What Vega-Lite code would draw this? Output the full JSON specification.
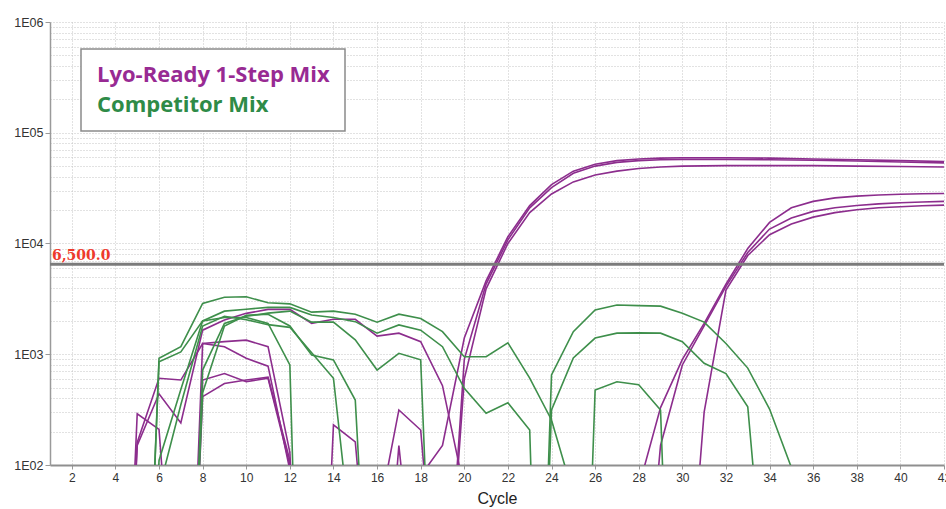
{
  "$schema": "https://vega.github.io/schema/vega-lite/v6.json",
  "width": 894,
  "height": 443,
  "autosize": {"type": "none"},
  "padding": {"left": 50, "top": 22, "right": 2, "bottom": 44},
  "background": "white",
  "config": {"view": {"stroke": null}, "font": "Liberation Sans"},
  "datasets": {
    "series": [
      {"s": "A1", "mix": "Lyo-Ready 1-Step Mix"}, {"s": "A2", "mix": "Lyo-Ready 1-Step Mix"}, {"s": "A3", "mix": "Lyo-Ready 1-Step Mix"},
      {"s": "B1", "mix": "Lyo-Ready 1-Step Mix"}, {"s": "B2", "mix": "Lyo-Ready 1-Step Mix"}, {"s": "B3", "mix": "Lyo-Ready 1-Step Mix"},
      {"s": "P1", "mix": "Lyo-Ready 1-Step Mix"}, {"s": "P2", "mix": "Lyo-Ready 1-Step Mix"}, {"s": "P3", "mix": "Lyo-Ready 1-Step Mix"},
      {"s": "P4", "mix": "Lyo-Ready 1-Step Mix"}, {"s": "P5", "mix": "Lyo-Ready 1-Step Mix"}, {"s": "P6", "mix": "Lyo-Ready 1-Step Mix"},
      {"s": "P7", "mix": "Lyo-Ready 1-Step Mix"}, {"s": "P8", "mix": "Lyo-Ready 1-Step Mix"}, {"s": "P9", "mix": "Lyo-Ready 1-Step Mix"},
      {"s": "G1", "mix": "Competitor Mix"}, {"s": "G2", "mix": "Competitor Mix"}, {"s": "G3", "mix": "Competitor Mix"},
      {"s": "G4", "mix": "Competitor Mix"}, {"s": "G5", "mix": "Competitor Mix"}, {"s": "G6", "mix": "Competitor Mix"},
      {"s": "R1", "mix": "Competitor Mix"}, {"s": "R2", "mix": "Competitor Mix"}, {"s": "R3", "mix": "Competitor Mix"}
    ],
    "curves": [
      {"s":"A1","c":17,"v":0.01},{"s":"A1","c":18,"v":80},{"s":"A1","c":19,"v":150},{"s":"A1","c":20,"v":1400},{"s":"A1","c":21,"v":4600},{"s":"A1","c":22,"v":11500},{"s":"A1","c":23,"v":22000},{"s":"A1","c":24,"v":34000},{"s":"A1","c":25,"v":45000},{"s":"A1","c":26,"v":52000},{"s":"A1","c":27,"v":56000},{"s":"A1","c":28,"v":58000},{"s":"A1","c":29,"v":59000},{"s":"A1","c":30,"v":59500},{"s":"A1","c":32,"v":59500},{"s":"A1","c":34,"v":59000},{"s":"A1","c":36,"v":58000},{"s":"A1","c":38,"v":57000},{"s":"A1","c":40,"v":56000},{"s":"A1","c":42,"v":55000},
      {"s":"A2","c":18,"v":0.01},{"s":"A2","c":19,"v":1},{"s":"A2","c":20,"v":900},{"s":"A2","c":21,"v":4300},{"s":"A2","c":22,"v":10800},{"s":"A2","c":23,"v":21000},{"s":"A2","c":24,"v":32000},{"s":"A2","c":25,"v":43000},{"s":"A2","c":26,"v":50000},{"s":"A2","c":27,"v":54000},{"s":"A2","c":28,"v":56000},{"s":"A2","c":29,"v":57000},{"s":"A2","c":30,"v":57500},{"s":"A2","c":32,"v":57500},{"s":"A2","c":34,"v":57000},{"s":"A2","c":36,"v":56500},{"s":"A2","c":38,"v":55500},{"s":"A2","c":40,"v":54500},{"s":"A2","c":42,"v":53500},
      {"s":"A3","c":19,"v":1},{"s":"A3","c":20,"v":600},{"s":"A3","c":21,"v":3900},{"s":"A3","c":22,"v":10000},{"s":"A3","c":23,"v":19000},{"s":"A3","c":24,"v":28000},{"s":"A3","c":25,"v":36000},{"s":"A3","c":26,"v":41500},{"s":"A3","c":27,"v":45000},{"s":"A3","c":28,"v":47500},{"s":"A3","c":29,"v":49000},{"s":"A3","c":30,"v":50000},{"s":"A3","c":32,"v":50500},{"s":"A3","c":34,"v":50500},{"s":"A3","c":36,"v":50500},{"s":"A3","c":38,"v":50000},{"s":"A3","c":40,"v":49500},{"s":"A3","c":42,"v":49000},
      {"s":"B1","c":27,"v":0.01},{"s":"B1","c":28,"v":63},{"s":"B1","c":29,"v":330},{"s":"B1","c":30,"v":900},{"s":"B1","c":31,"v":1900},{"s":"B1","c":32,"v":4300},{"s":"B1","c":33,"v":9000},{"s":"B1","c":34,"v":15500},{"s":"B1","c":35,"v":21000},{"s":"B1","c":36,"v":24000},{"s":"B1","c":37,"v":25800},{"s":"B1","c":38,"v":26800},{"s":"B1","c":39,"v":27400},{"s":"B1","c":40,"v":27800},{"s":"B1","c":41,"v":28100},{"s":"B1","c":42,"v":28300},
      {"s":"B2","c":28,"v":1},{"s":"B2","c":29,"v":150},{"s":"B2","c":30,"v":800},{"s":"B2","c":31,"v":1800},{"s":"B2","c":32,"v":4100},{"s":"B2","c":33,"v":8300},{"s":"B2","c":34,"v":13500},{"s":"B2","c":35,"v":17000},{"s":"B2","c":36,"v":19500},{"s":"B2","c":37,"v":21000},{"s":"B2","c":38,"v":22000},{"s":"B2","c":39,"v":22800},{"s":"B2","c":40,"v":23300},{"s":"B2","c":41,"v":23700},{"s":"B2","c":42,"v":24000},
      {"s":"B3","c":30,"v":1},{"s":"B3","c":31,"v":300},{"s":"B3","c":32,"v":3800},{"s":"B3","c":33,"v":7800},{"s":"B3","c":34,"v":12000},{"s":"B3","c":35,"v":15000},{"s":"B3","c":36,"v":17300},{"s":"B3","c":37,"v":19000},{"s":"B3","c":38,"v":20200},{"s":"B3","c":39,"v":21000},{"s":"B3","c":40,"v":21500},{"s":"B3","c":41,"v":21900},{"s":"B3","c":42,"v":22200},
      {"s":"P1","c":4,"v":0.01},{"s":"P1","c":5,"v":290},{"s":"P1","c":6,"v":210},{"s":"P1","c":7,"v":0.5},
      {"s":"P2","c":4,"v":0.01},{"s":"P2","c":5,"v":150},{"s":"P2","c":6,"v":440},{"s":"P2","c":7,"v":240},{"s":"P2","c":8,"v":1650},{"s":"P2","c":9,"v":2040},{"s":"P2","c":10,"v":2340},{"s":"P2","c":11,"v":2540},{"s":"P2","c":12,"v":2540},{"s":"P2","c":13,"v":1900},{"s":"P2","c":14,"v":2070},{"s":"P2","c":15,"v":2070},{"s":"P2","c":16,"v":1460},{"s":"P2","c":17,"v":1550},{"s":"P2","c":18,"v":1300},{"s":"P2","c":19,"v":520},{"s":"P2","c":20,"v":60},
      {"s":"P3","c":4,"v":0.01},{"s":"P3","c":5,"v":160},{"s":"P3","c":6,"v":607},{"s":"P3","c":7,"v":585},{"s":"P3","c":8,"v":1250},{"s":"P3","c":9,"v":1300},{"s":"P3","c":10,"v":1340},{"s":"P3","c":11,"v":1170},{"s":"P3","c":12,"v":130},{"s":"P3","c":13,"v":0.01},
      {"s":"P4","c":7,"v":0.01},{"s":"P4","c":8,"v":585},{"s":"P4","c":9,"v":670},{"s":"P4","c":10,"v":565},{"s":"P4","c":11,"v":607},{"s":"P4","c":12,"v":100},{"s":"P4","c":13,"v":0.01},
      {"s":"P5","c":7,"v":0.01},{"s":"P5","c":8,"v":1250},{"s":"P5","c":9,"v":1170},{"s":"P5","c":10,"v":920},{"s":"P5","c":11,"v":780},{"s":"P5","c":12,"v":90},{"s":"P5","c":13,"v":0.01},
      {"s":"P6","c":7,"v":0.01},{"s":"P6","c":8,"v":414},{"s":"P6","c":9,"v":545},{"s":"P6","c":10,"v":585},{"s":"P6","c":11,"v":620},{"s":"P6","c":12,"v":110},{"s":"P6","c":13,"v":0.01},
      {"s":"P7","c":13,"v":0.01},{"s":"P7","c":14,"v":230},{"s":"P7","c":15,"v":162},{"s":"P7","c":16,"v":1},
      {"s":"P8","c":15,"v":0.01},{"s":"P8","c":16,"v":30},{"s":"P8","c":17,"v":314},{"s":"P8","c":18,"v":207},{"s":"P8","c":19,"v":1},
      {"s":"P9","c":16,"v":0.5},{"s":"P9","c":17,"v":150},{"s":"P9","c":18,"v":2},
      {"s":"G1","c":5,"v":0.01},{"s":"G1","c":6,"v":919},{"s":"G1","c":7,"v":1170},{"s":"G1","c":8,"v":2880},{"s":"G1","c":9,"v":3270},{"s":"G1","c":10,"v":3300},{"s":"G1","c":11,"v":2920},{"s":"G1","c":12,"v":2850},{"s":"G1","c":13,"v":2400},{"s":"G1","c":14,"v":2450},{"s":"G1","c":15,"v":2300},{"s":"G1","c":16,"v":1950},{"s":"G1","c":17,"v":2300},{"s":"G1","c":18,"v":2100},{"s":"G1","c":19,"v":1600},{"s":"G1","c":20,"v":950},{"s":"G1","c":21,"v":950},{"s":"G1","c":22,"v":1270},{"s":"G1","c":23,"v":610},{"s":"G1","c":24,"v":255},{"s":"G1","c":25,"v":54},
      {"s":"G2","c":5,"v":0.01},{"s":"G2","c":6,"v":857},{"s":"G2","c":7,"v":1050},{"s":"G2","c":8,"v":2000},{"s":"G2","c":9,"v":2450},{"s":"G2","c":10,"v":2550},{"s":"G2","c":11,"v":2650},{"s":"G2","c":12,"v":2650},{"s":"G2","c":13,"v":2260},{"s":"G2","c":14,"v":2150},{"s":"G2","c":15,"v":1970},{"s":"G2","c":16,"v":1550},{"s":"G2","c":17,"v":1840},{"s":"G2","c":18,"v":1650},{"s":"G2","c":19,"v":1170},{"s":"G2","c":20,"v":493},{"s":"G2","c":21,"v":293},{"s":"G2","c":22,"v":365},{"s":"G2","c":23,"v":207},{"s":"G2","c":24,"v":0.0001},
      {"s":"G3","c":5,"v":0.01},{"s":"G3","c":6,"v":110},{"s":"G3","c":7,"v":480},{"s":"G3","c":8,"v":2000},{"s":"G3","c":9,"v":2150},{"s":"G3","c":10,"v":2150},{"s":"G3","c":11,"v":1900},{"s":"G3","c":12,"v":800},{"s":"G3","c":13,"v":0.0001},
      {"s":"G4","c":5,"v":0.01},{"s":"G4","c":6,"v":60},{"s":"G4","c":7,"v":350},{"s":"G4","c":8,"v":1800},{"s":"G4","c":9,"v":2200},{"s":"G4","c":10,"v":2050},{"s":"G4","c":11,"v":1850},{"s":"G4","c":12,"v":1750},{"s":"G4","c":13,"v":1030},{"s":"G4","c":14,"v":607},{"s":"G4","c":15,"v":10},
      {"s":"G5","c":7,"v":0.01},{"s":"G5","c":8,"v":450},{"s":"G5","c":9,"v":1800},{"s":"G5","c":10,"v":2250},{"s":"G5","c":11,"v":2300},{"s":"G5","c":12,"v":1800},{"s":"G5","c":13,"v":985},{"s":"G5","c":14,"v":890},{"s":"G5","c":15,"v":386},{"s":"G5","c":16,"v":0.1},
      {"s":"G6","c":7,"v":0.01},{"s":"G6","c":8,"v":720},{"s":"G6","c":9,"v":1900},{"s":"G6","c":10,"v":2200},{"s":"G6","c":11,"v":2350},{"s":"G6","c":12,"v":2450},{"s":"G6","c":13,"v":1950},{"s":"G6","c":14,"v":1950},{"s":"G6","c":15,"v":1350},{"s":"G6","c":16,"v":720},{"s":"G6","c":17,"v":1020},{"s":"G6","c":18,"v":890},{"s":"G6","c":19,"v":0.01},
      {"s":"R1","c":23,"v":0.001},{"s":"R1","c":24,"v":650},{"s":"R1","c":25,"v":1600},{"s":"R1","c":26,"v":2510},{"s":"R1","c":27,"v":2780},{"s":"R1","c":28,"v":2750},{"s":"R1","c":29,"v":2720},{"s":"R1","c":30,"v":2350},{"s":"R1","c":31,"v":1950},{"s":"R1","c":32,"v":1250},{"s":"R1","c":33,"v":750},{"s":"R1","c":34,"v":320},{"s":"R1","c":35,"v":95},{"s":"R1","c":36,"v":0.01},
      {"s":"R2","c":23,"v":0.001},{"s":"R2","c":24,"v":314},{"s":"R2","c":25,"v":925},{"s":"R2","c":26,"v":1400},{"s":"R2","c":27,"v":1550},{"s":"R2","c":28,"v":1560},{"s":"R2","c":29,"v":1550},{"s":"R2","c":30,"v":1300},{"s":"R2","c":31,"v":830},{"s":"R2","c":32,"v":670},{"s":"R2","c":33,"v":336},{"s":"R2","c":34,"v":2},
      {"s":"R3","c":25,"v":0.001},{"s":"R3","c":26,"v":476},{"s":"R3","c":27,"v":565},{"s":"R3","c":28,"v":530},{"s":"R3","c":29,"v":314},{"s":"R3","c":30,"v":0.001}
    ],
    "threshold": [{"c": 1, "v": 6500, "label": "6,500.0"}]
  },
  "layer": [
    {
      "data": {"name": "curves"},
      "transform": [{"lookup": "s", "from": {"data": {"name": "series"}, "key": "s", "fields": ["mix"]}}],
      "mark": {"type": "line", "clip": true, "strokeWidth": 1.6},
      "encoding": {
        "x": {
          "field": "c", "type": "quantitative",
          "scale": {"domain": [1, 42], "nice": false, "zero": false},
          "axis": {
            "values": [2,4,6,8,10,12,14,16,18,20,22,24,26,28,30,32,34,36,38,40,42],
            "title": "Cycle", "titleFont": "Liberation Sans", "titleFontSize": 16, "titleFontWeight": "normal", "titleColor": "#222", "titlePadding": 7,
            "labelFont": "Liberation Sans Narrow, Liberation Sans", "labelFontSize": 12, "labelColor": "#333", "labelPadding": 3, "labelFlush": false, "labelBound": false, "labelOverlap": false,
            "tickSize": 4, "tickColor": "#999999",
            "domainColor": "#8f8f8f", "domainWidth": 2,
            "grid": true, "gridColor": "#c4c4c4", "gridDash": [1, 2], "gridWidth": 1
          }
        },
        "y": {
          "field": "v", "type": "quantitative",
          "scale": {"type": "log", "domain": [100, 1000000], "nice": false},
          "axis": {
            "values": [100,200,300,400,500,600,700,800,900,1000,2000,3000,4000,5000,6000,7000,8000,9000,10000,20000,30000,40000,50000,60000,70000,80000,90000,100000,200000,300000,400000,500000,600000,700000,800000,900000,1000000],
            "labelExpr": "datum.value == 100 ? '1E02' : datum.value == 1000 ? '1E03' : datum.value == 10000 ? '1E04' : datum.value == 100000 ? '1E05' : datum.value == 1000000 ? '1E06' : ''",
            "title": null,
            "labelFont": "Liberation Sans", "labelFontSize": 12.5, "labelColor": "#333", "labelPadding": 2, "labelOverlap": false, "labelBound": false,
            "tickSize": 5, "tickColor": "#999999",
            "tickOpacity": {"condition": {"test": "datum.value == 100 || datum.value == 1000 || datum.value == 10000 || datum.value == 100000 || datum.value == 1000000", "value": 1}, "value": 0},
            "domainColor": "#9a9a9a", "domainWidth": 1.5,
            "grid": true, "gridColor": "#c4c4c4", "gridDash": [1, 2], "gridWidth": 1
          }
        },
        "color": {
          "field": "mix", "type": "nominal",
          "scale": {"domain": ["Lyo-Ready 1-Step Mix", "Competitor Mix"], "range": ["#8c2d8d", "#3e8f4b"]},
          "legend": {
            "orient": "none", "legendX": 31, "legendY": 27, "title": null,
            "symbolSize": 0, "symbolOpacity": 0, "symbolStrokeWidth": 0, "symbolType": "circle",
            "labelFont": "Open Sans", "labelFontSize": 22, "labelFontWeight": "bold", "labelOffset": -21, "labelLimit": 500,
            "padding": 15, "rowPadding": 8,
            "strokeColor": "#8a8a8a", "fillColor": "white",
            "encode": {
              "labels": {"update": {"fill": {"signal": "datum.value === 'Competitor Mix' ? '#2e8b47' : '#982a93'"}}},
              "legend": {"update": {"strokeWidth": {"value": 1.5}}}
            }
          }
        },
        "detail": {"field": "s"},
        "order": {"field": "c", "type": "quantitative"}
      }
    },
    {
      "data": {"name": "threshold"},
      "mark": {"type": "rule", "color": "#7b7b7b", "strokeWidth": 3},
      "encoding": {"y": {"field": "v", "type": "quantitative", "title": null}}
    },
    {
      "data": {"name": "threshold"},
      "mark": {"type": "text", "align": "left", "baseline": "alphabetic", "dx": 2, "dy": -4, "font": "DejaVu Serif", "fontSize": 14, "fontWeight": "bold", "color": "#ee3a2c"},
      "encoding": {
        "x": {"field": "c", "type": "quantitative", "title": "Cycle"},
        "y": {"field": "v", "type": "quantitative", "title": null},
        "text": {"field": "label"}
      }
    }
  ]
}
